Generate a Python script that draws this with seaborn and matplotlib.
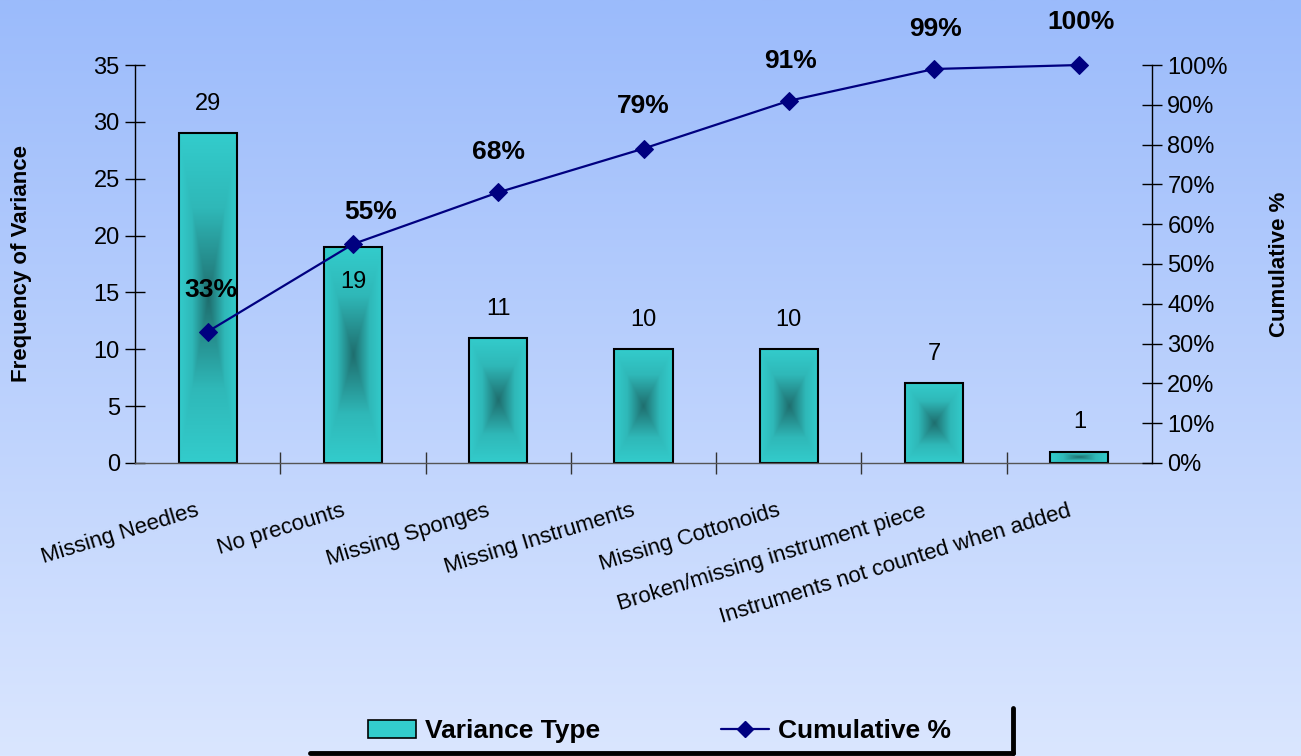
import numpy as np
import pandas as pd
import matplotlib
matplotlib.use("Agg")
import matplotlib.pyplot as plt
import matplotlib.transforms as mtransforms
from matplotlib.colors import LinearSegmentedColormap
from matplotlib.lines import Line2D
from matplotlib.patches import Patch
from matplotlib.ticker import FixedLocator, FuncFormatter
import seaborn as sns

# chart data
categories = ["Missing Needles", "No precounts", "Missing Sponges", "Missing Instruments",
              "Missing Cottonoids", "Broken/missing instrument piece",
              "Instruments not counted when added"]
counts = [29, 19, 11, 10, 10, 7, 1]
cum_pct = [33, 55, 68, 79, 91, 99, 100]

TEAL = "#33cccc"
DARK_TEAL = "#1f6e6e"
NAVY = "#000080"

sns.set_theme(style="white")
plt.rcParams["font.family"] = ["Liberation Sans", "DejaVu Sans"]
plt.rcParams["text.color"] = "black"
plt.rcParams["axes.labelcolor"] = "black"
plt.rcParams["xtick.color"] = "black"
plt.rcParams["ytick.color"] = "black"

fig = plt.figure(figsize=(13.01, 7.56), dpi=100)

# gradient background over the whole figure
bg = fig.add_axes([0, 0, 1, 1], zorder=-10)
bg_cmap = LinearSegmentedColormap.from_list("bg", ["#9bbbfb", "#dae6ff"])
bg.imshow(np.linspace(0, 1, 256).reshape(-1, 1), aspect="auto", cmap=bg_cmap,
          extent=[0, 1, 0, 1], origin="upper")
bg.axis("off")

ax = fig.add_axes([0.1038, 0.3876, 0.7817, 0.5264])
ax.patch.set_alpha(0)

df = pd.DataFrame({"type": categories, "count": counts})
sns.barplot(data=df, x="type", y="count", ax=ax, color=TEAL, width=0.4,
            saturation=1, edgecolor="black", linewidth=1.5)

# rectangular "from centre" gradient fill inside each bar
bar_cmap = LinearSegmentedColormap.from_list(
    "bar", [(0, TEAL), (0.45, "#2fb8b8"), (1, DARK_TEAL)])
u = np.linspace(-1, 1, 200)
U, V = np.meshgrid(u, u)
shade = 1 - np.maximum(np.abs(U), np.abs(V))
for p in list(ax.patches):
    x0, y0, w, h = p.get_x(), p.get_y(), p.get_width(), p.get_height()
    im = ax.imshow(shade, cmap=bar_cmap, vmin=0, vmax=1, aspect="auto",
                   extent=[x0, x0 + w, y0, y0 + h], interpolation="bilinear",
                   zorder=p.get_zorder() + 0.1)
    im.set_clip_path(p)
    p.set_facecolor("none")
    p.set_zorder(p.get_zorder() + 0.2)

ax.set_xlim(-0.5, len(categories) - 0.5)
ax.set_ylim(0, 35)
ax.set_yticks(range(0, 36, 5))

# count labels
for c, cat in zip(counts, categories):
    dy = -25 if c == 19 else 21
    ax.annotate(str(c), (cat, c), xytext=(0, dy), textcoords="offset points",
                ha="center", va="center", fontsize=17, color="black")

# cumulative line on secondary axis
ax2 = ax.twinx()
sns.lineplot(x=categories, y=cum_pct, ax=ax2, color=NAVY, marker="D",
             markersize=9, markeredgecolor=NAVY, linewidth=1.6, sort=False,
             clip_on=False)
ax2.set_ylim(0, 100)
ax2.yaxis.set_major_locator(FixedLocator(range(0, 101, 10)))
ax2.yaxis.set_major_formatter(FuncFormatter(lambda v, _: f"{int(v)}%"))
ax2.set_xlim(-0.5, len(categories) - 0.5)

label_dx = [2, 13, 0, 0, 1, 1, 1]
label_dy = [30, 23, 29, 31, 29, 29, 31]
for cat, v, dx, dy in zip(categories, cum_pct, label_dx, label_dy):
    ax2.annotate(f"{v}%", (cat, v), xytext=(dx, dy), textcoords="offset points",
                 ha="center", va="center", fontsize=19, fontweight="bold", color="black")

# spines and ticks
for a in (ax, ax2):
    a.spines["top"].set_visible(False)
    a.spines["left"].set_color("black")
    a.spines["right"].set_color("black")
    a.spines["bottom"].set_color("#555555")
    for s in a.spines.values():
        s.set_linewidth(1.0)
    a.grid(False)

ax.spines["right"].set_visible(False)
ax2.spines["left"].set_visible(False)
ax2.spines["bottom"].set_visible(False)

ax.tick_params(axis="y", direction="inout", length=14, width=1, color="black",
               labelsize=17, pad=4, left=True)
ax2.tick_params(axis="y", direction="inout", length=14, width=1, color="black",
                labelsize=17, pad=4, right=True)

ax.xaxis.set_minor_locator(FixedLocator(np.arange(0.5, len(categories) - 1, 1.0)))
ax.tick_params(axis="x", which="minor", direction="inout", length=16, width=1,
               color="#333333", bottom=True)
ax.tick_params(axis="x", which="major", length=0, labelsize=16, pad=27)
ax.set_xticks(range(len(categories)))
ax.set_xticklabels(categories, rotation=17, ha="right", va="top",
                   rotation_mode="anchor")
shift = mtransforms.ScaledTranslation(-12 / 100, 0, fig.dpi_scale_trans)
for lbl in ax.get_xticklabels():
    lbl.set_transform(lbl.get_transform() + shift)

ax.set_xlabel("")
ax.set_ylabel("Frequency of Variance", fontsize=16, fontweight="bold", labelpad=44)
ax2.set_ylabel("Cumulative %", fontsize=16, fontweight="bold", labelpad=30)

# legend with a drop shadow edge
handles = [
    Patch(facecolor=TEAL, edgecolor="black", linewidth=1.2, label="Variance Type"),
    Line2D([0], [0], color=NAVY, marker="D", markersize=8, linewidth=1.6,
           label="Cumulative %"),
]
fig.legend(handles=handles, loc="center", bbox_to_anchor=(0.507, 0.033), ncol=2,
           frameon=False, prop={"size": 19, "weight": "bold"}, handlelength=1.8,
           handleheight=0.7, handletextpad=0.35, columnspacing=4.6)
fig.add_artist(Line2D([0.7786, 0.7786], [0.004, 0.0635], color="black", linewidth=3.5))
fig.add_artist(Line2D([0.238, 0.7786], [0.004, 0.004], color="black", linewidth=3.5))

fig.savefig("out.png", dpi=100)
plt.close(fig)
